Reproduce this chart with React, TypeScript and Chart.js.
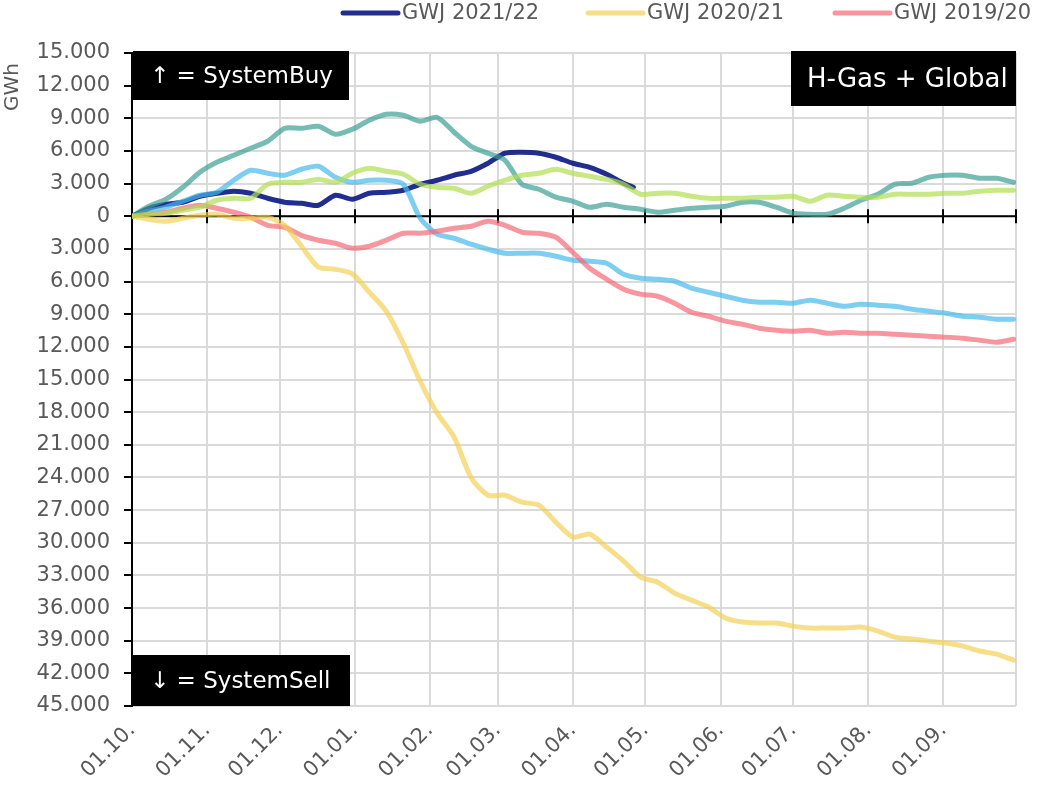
import React, { useEffect, useRef } from "react";
import { Chart, registerables } from "chart.js";

Chart.register(...registerables);

// day index since 01.10.
const DAYS = [0, 7, 14, 21, 28, 35, 42, 49, 56, 63, 70, 77, 84, 91, 98, 105, 112, 119, 126, 133, 140, 147, 154, 161, 168, 175, 182, 189, 196, 203, 210, 217, 224, 231, 238, 245, 252, 259, 266, 273, 280, 287, 294, 301, 308, 315, 322, 329, 336, 343, 350, 357, 364];

const NAVY_DAYS = [0, 7, 14, 21, 28, 35, 42, 49, 56, 63, 70, 77, 84, 91, 98, 105, 112, 119, 126, 133, 140, 147, 154, 161, 168, 175, 182, 189, 196, 203, 207];

const MONTH_DAYS = [0, 31, 61, 92, 123, 151, 182, 212, 243, 273, 304, 335, 365];
const MONTH_LABELS = ["01.10.", "01.11.", "01.12.", "01.01.", "01.02.", "01.03.", "01.04.", "01.05.", "01.06.", "01.07.", "01.08.", "01.09.", ""];

const GWJ_2021_22 = [0, 730, 1100, 1290, 1840, 2110, 2300, 2110, 1650, 1290, 1190, 1010, 1930, 1560, 2110, 2200, 2390, 2940, 3310, 3770, 4130, 4870, 5790, 5880, 5790, 5420, 4870, 4500, 3860, 3030, 2660];

const GWJ_2020_21 = [0, -280, -460, -180, 90, 180, -180, -180, -90, -830, -2760, -4680, -4870, -5300, -6980, -8730, -11660, -15160, -18090, -20300, -24000, -25630, -25630, -26270, -26540, -28110, -29480, -29210, -30400, -31690, -33160, -33620, -34630, -35270, -35910, -36920, -37290, -37380, -37380, -37660, -37840, -37840, -37840, -37750, -38120, -38670, -38850, -39040, -39220, -39500, -39950, -40230, -40780];

const GWJ_2019_20 = [0, 180, 370, 730, 1010, 730, 370, -90, -830, -1010, -1750, -2200, -2480, -2940, -2760, -2200, -1560, -1560, -1380, -1100, -920, -460, -830, -1470, -1560, -1930, -3310, -4780, -5790, -6700, -7160, -7350, -7990, -8820, -9190, -9640, -9920, -10290, -10470, -10560, -10470, -10750, -10650, -10750, -10750, -10840, -10930, -11020, -11110, -11210, -11390, -11570, -11300];

const GREEN_SERIES = [0, 180, 280, 550, 830, 1470, 1650, 1650, 2940, 3120, 3120, 3400, 3120, 3950, 4410, 4130, 3860, 2940, 2660, 2570, 2110, 2760, 3310, 3770, 3950, 4320, 3950, 3670, 3400, 2940, 2020, 2110, 2110, 1840, 1650, 1650, 1650, 1750, 1750, 1840, 1380, 1930, 1840, 1750, 1750, 2020, 2020, 2020, 2110, 2110, 2300, 2390, 2390];

const TEAL_SERIES = [0, 920, 1560, 2660, 4040, 4960, 5600, 6250, 6890, 8080, 8080, 8270, 7530, 7990, 8820, 9370, 9280, 8730, 9090, 7720, 6430, 5790, 5140, 2940, 2480, 1750, 1380, 830, 1100, 830, 640, 370, 550, 730, 830, 920, 1290, 1290, 830, 280, 180, 180, 730, 1470, 2020, 2940, 3030, 3580, 3770, 3770, 3490, 3490, 3120];

const BLUE_SERIES = [0, 460, 830, 1380, 1930, 2200, 3310, 4220, 3950, 3770, 4320, 4590, 3580, 3120, 3310, 3310, 2940, -180, -1650, -2020, -2570, -3030, -3400, -3400, -3400, -3670, -4040, -4130, -4320, -5330, -5690, -5790, -5970, -6610, -6980, -7350, -7720, -7900, -7900, -7990, -7720, -7990, -8270, -8080, -8170, -8270, -8540, -8730, -8910, -9190, -9280, -9460, -9460];

const LEGEND_LABELS = ["GWJ 2021/22", "GWJ 2020/21", "GWJ 2019/20"];

const COLORS = {
  navy: "rgba(16,30,135,0.93)",
  yellow: "rgba(242,208,80,0.68)",
  pink: "rgba(245,100,115,0.68)",
  green: "rgba(175,222,80,0.7)",
  teal: "rgba(60,160,150,0.7)",
  blue: "rgba(70,185,235,0.7)",
};

const FONT = "'DejaVu Sans', sans-serif";
const GRAY_TEXT = "#595959";

function fmt(v: number): string {
  const a = Math.round(Math.abs(v));
  return a.toString().replace(/\B(?=(\d{3})+(?!\d))/g, ".");
}

const toPts = (days: number[], vals: number[]) => vals.map((v, i) => ({ x: days[i], y: v }));

const overlayPlugin = {
  id: "overlay",
  beforeDatasetsDraw(chart: any) {
    const { ctx, chartArea, scales } = chart;
    const x = scales.x;
    const y = scales.y;
    const y0 = y.getPixelForValue(0);
    ctx.save();
    ctx.strokeStyle = "#000";
    ctx.lineWidth = 2;
    ctx.beginPath();
    ctx.moveTo(chartArea.left, y0);
    ctx.lineTo(chartArea.right, y0);
    MONTH_DAYS.forEach((d) => {
      const px = Math.round(x.getPixelForValue(d));
      ctx.moveTo(px, y0 - 7);
      ctx.lineTo(px, y0 + 7);
    });
    ctx.stroke();
    ctx.restore();
  },
  afterDraw(chart: any) {
    const { ctx, chartArea } = chart;
    ctx.save();
    const box = (left: number, top: number, w: number, h: number, text: string, size: number, tx: number) => {
      ctx.fillStyle = "#000";
      ctx.fillRect(left, top, w, h);
      ctx.fillStyle = "#fff";
      ctx.font = `${size}px ${FONT}`;
      ctx.textBaseline = "middle";
      ctx.textAlign = "left";
      ctx.fillText(text, left + tx, top + h / 2 + 2);
    };
    box(chartArea.left + 1, chartArea.top - 2, 216, 49, "\u2191 = SystemBuy", 23, 17);
    box(chartArea.right - 225, chartArea.top - 2, 225, 55, "H-Gas + Global", 26, 16);
    box(chartArea.left + 1, chartArea.bottom - 51, 217, 51, "\u2193 = SystemSell", 23, 17);

    const legendColors = [COLORS.navy, COLORS.yellow, COLORS.pink];
    const legendX = [343, 588, 835];
    const ly = 13;
    legendX.forEach((lx, i) => {
      ctx.strokeStyle = legendColors[i];
      ctx.lineWidth = 5;
      ctx.lineCap = "round";
      ctx.beginPath();
      ctx.moveTo(lx, ly);
      ctx.lineTo(lx + 55, ly);
      ctx.stroke();
      ctx.fillStyle = GRAY_TEXT;
      ctx.font = `21px ${FONT}`;
      ctx.textBaseline = "middle";
      ctx.textAlign = "left";
      ctx.fillText(LEGEND_LABELS[i], lx + 59, ly + 1);
    });

    ctx.translate(13, 87);
    ctx.rotate(-Math.PI / 2);
    ctx.fillStyle = GRAY_TEXT;
    ctx.font = `20px ${FONT}`;
    ctx.textAlign = "center";
    ctx.textBaseline = "middle";
    ctx.fillText("GWh", 0, 0);
    ctx.restore();
  },
};

export default function App() {
  const ref = useRef<HTMLCanvasElement | null>(null);

  useEffect(() => {
    if (!ref.current) return;
    const line = (label: string, data: any[], color: string, order: number) => ({
      label,
      data,
      borderColor: color,
      backgroundColor: color,
      borderWidth: 5,
      pointRadius: 0,
      tension: 0.25,
      fill: false,
      order,
      borderCapStyle: "round" as const,
      borderJoinStyle: "round" as const,
    });
    const chart = new Chart(ref.current, {
      type: "line",
      data: {
        datasets: [
          line("GWJ 2020/21", toPts(DAYS, GWJ_2020_21), COLORS.yellow, 2),
          line("GWJ 2019/20", toPts(DAYS, GWJ_2019_20), COLORS.pink, 3),
          line("GWJ 2020/21 (Buy)", toPts(DAYS, GREEN_SERIES), COLORS.green, 1),
          line("GWJ 2019/20 (Buy)", toPts(DAYS, TEAL_SERIES), COLORS.teal, 4),
          line("GWJ 2019/20 (Blue)", toPts(DAYS, BLUE_SERIES), COLORS.blue, 5),
          line("GWJ 2021/22", toPts(NAVY_DAYS, GWJ_2021_22), COLORS.navy, 6),
        ],
      },
      options: {
        responsive: false,
        animation: false,
        layout: { padding: { top: 53, right: 26, left: 0, bottom: 0 } },
        plugins: {
          legend: { display: false },
          tooltip: { enabled: false },
        },
        scales: {
          x: {
            type: "linear",
            min: 0,
            max: 365,
            afterBuildTicks: (scale: any) => {
              scale.ticks = MONTH_DAYS.map((v) => ({ value: v }));
            },
            afterFit: (scale: any) => {
              scale.height = 79;
              scale.paddingLeft = 0;
              scale.paddingRight = 0;
              scale.paddingTop = 0;
              scale.paddingBottom = 0;
            },
            grid: { color: "#dadada", lineWidth: 2, drawTicks: false },
            border: { display: false },
            ticks: {
              autoSkip: false,
              minRotation: 45,
              maxRotation: 45,
              padding: 12,
              color: GRAY_TEXT,
              font: { family: FONT, size: 21 },
              callback: (v: any) => {
                const i = MONTH_DAYS.indexOf(Number(v));
                return i >= 0 ? MONTH_LABELS[i] : "";
              },
            },
          },
          y: {
            min: -45000,
            max: 15000,
            afterBuildTicks: (scale: any) => {
              const t = [];
              for (let v = -45000; v <= 15000; v += 3000) t.push({ value: v });
              scale.ticks = t;
            },
            afterFit: (scale: any) => {
              scale.width = 132;
              scale.paddingLeft = 0;
              scale.paddingRight = 0;
              scale.paddingTop = 0;
              scale.paddingBottom = 0;
            },
            grid: { color: "#dadada", lineWidth: 2, tickColor: "#000", tickLength: 8, tickWidth: 2 },
            border: { display: true, color: "#000", width: 2 },
            ticks: {
              padding: 14,
              color: GRAY_TEXT,
              font: { family: FONT, size: 21 },
              callback: (v: any) => fmt(Number(v)),
            },
          },
        },
      },
      plugins: [overlayPlugin],
    });
    return () => chart.destroy();
  }, []);

  return (
    <div style={{ position: "absolute", left: 0, top: 0, width: 1042, height: 785, background: "#fff" }}>
      <canvas ref={ref} width={1042} height={785} style={{ width: 1042, height: 785, display: "block" }} />
    </div>
  );
}
